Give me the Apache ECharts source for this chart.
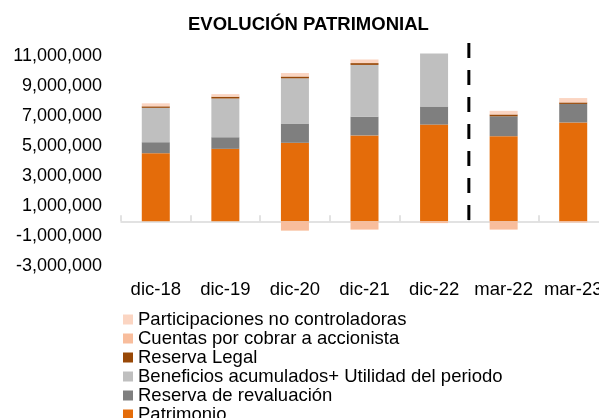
<!DOCTYPE html>
<html>
<head>
<meta charset="utf-8">
<script src="https://cdn.jsdelivr.net/npm/echarts@6/dist/echarts.min.js"></script>
<style>
  html, body { margin: 0; padding: 0; background: #fff; }
  #chart { width: 599px; height: 418px; }
</style>
</head>
<body>
<div id="chart"></div>
<script>
// categorias y valores
var categorias = ['dic-18', 'dic-19', 'dic-20', 'dic-21', 'dic-22', 'mar-22', 'mar-23'];
var patrimonio = [4520000, 4810000, 5210000, 5700000, 6420000, 5650000, 6560000];
var revaluacion = [730000, 770000, 1280000, 1250000, 1200000, 1320000, 1230000];
var beneficios = [2280000, 2570000, 3000000, 3430000, 3510000, 0, 0];
var reservaLegal = [100000, 120000, 120000, 120000, 0, 120000, 100000];
var cuentasCobrar = [0, 0, -620000, -550000, -120000, -550000, -80000];
var participaciones = [200000, 170000, 230000, 240000, 0, 240000, 290000];

// eje Y
var yMin = -3000000;
var yMax = 11900000;
var yPaso = 2000000;

// linea separadora entre cierres anuales y trimestres
var separador = categorias.indexOf('mar-22') - 0.5;
var sepArriba = 11830000;
var sepAbajo = -380000;

var font = 'Liberation Sans, Arial, sans-serif';

function serieBarra(nombre, datos, color) {
  return {
    name: nombre,
    type: 'bar',
    stack: 'total',
    barWidth: 28,
    data: datos,
    itemStyle: { color: color },
    silent: true
  };
}

var myChart = echarts.init(document.getElementById('chart'));
myChart.setOption({
  animation: false,
  backgroundColor: '#fff',
  title: {
    text: 'EVOLUCIÓN PATRIMONIAL',
    left: 183,
    top: 10,
    textStyle: { fontFamily: font, fontSize: 18.5, fontWeight: 'bold', color: '#000' }
  },
  legend: {
    orient: 'vertical',
    left: 118,
    top: 305,
    height: 200,
    itemWidth: 10,
    itemHeight: 10,
    itemGap: 0,
    icon: 'rect',
    textStyle: { fontFamily: font, fontSize: 18.5, color: '#000' },
    data: ['Participaciones no controladoras', 'Cuentas por cobrar a accionista', 'Reserva Legal',
      'Beneficios acumulados+ Utilidad del periodo', 'Reserva de revaluación', 'Patrimonio']
  },
  grid: { left: 121, right: -9, top: 42, bottom: 151.5, outerBoundsMode: 'none', containLabel: false },
  xAxis: [{
    type: 'category',
    data: categorias,
    axisLine: { show: false, onZero: false },
    axisTick: { show: false },
    axisLabel: { fontFamily: font, fontSize: 18.5, color: '#000', margin: 14, interval: 0, hideOverlap: false }
  }, {
    type: 'category',
    data: categorias,
    axisLine: { onZero: true, lineStyle: { color: '#d9d9d9', width: 1.5 } },
    axisTick: { show: true, length: 6, lineStyle: { color: '#d9d9d9', width: 1.5 } },
    axisLabel: { show: false }
  }, {
    type: 'value',
    min: -0.5,
    max: categorias.length - 0.5,
    show: false
  }],
  yAxis: {
    type: 'value',
    min: yMin,
    max: yMax,
    interval: yPaso,
    splitLine: { show: false },
    axisLine: { show: false },
    axisTick: { show: false },
    axisLabel: {
      showMaxLabel: false,
      fontFamily: font,
      fontSize: 18,
      color: '#000',
      margin: 19,
      formatter: function(v) { return v.toLocaleString('en-US'); }
    }
  },
  series: [
    serieBarra('Patrimonio', patrimonio, '#e46c0a'),
    serieBarra('Reserva de revaluación', revaluacion, '#7f7f7f'),
    serieBarra('Beneficios acumulados+ Utilidad del periodo', beneficios, '#bfbfbf'),
    serieBarra('Reserva Legal', reservaLegal, '#984807'),
    serieBarra('Cuentas por cobrar a accionista', cuentasCobrar, '#f8bd9c'),
    serieBarra('Participaciones no controladoras', participaciones, '#fbd5c2'),
    {
      name: 'separador',
      type: 'line',
      xAxisIndex: 2,
      data: [[separador, sepArriba], [separador, sepAbajo]],
      symbol: 'none',
      silent: true,
      lineStyle: { color: '#000', width: 3, type: [15, 12] }
    }
  ]
});
</script>
</body>
</html>
